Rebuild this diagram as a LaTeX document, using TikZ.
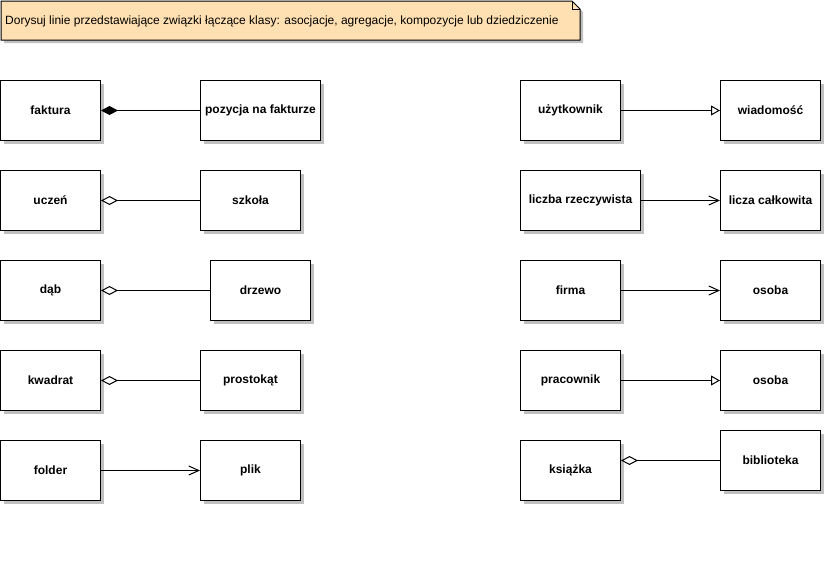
\documentclass[tikz,border=0pt]{standalone}
\usepackage{fontspec}
\setmainfont{Liberation Sans}
\usetikzlibrary{arrows.meta,shadows}
\definecolor{notefill}{RGB}{255,224,178}
\definecolor{shadowgray}{RGB}{192,192,192}
\tikzset{
  cls/.style={draw=black, line width=1pt, fill=white, anchor=north west,
    minimum width=#1, minimum height=60pt, inner sep=0pt,
    font=\fontsize{12pt}{14pt}\selectfont\bfseries,
    general shadow={fill=shadowgray, shadow xshift=3pt, shadow yshift=-3pt}},
  cls/.default=100pt,
  link/.style={line width=1pt},
  compo/.style={link, {Diamond[length=17pt,width=9pt,fill=black]}-},
  aggr/.style={link, {Diamond[open,length=17pt,width=9pt,fill=white]}-},
  assoc/.style={link, -{Straight Barb[length=10pt,width=9pt,line width=1pt]}},
  gener/.style={link, -{Triangle[open,length=9pt,width=10pt,fill=white]}},
}
\begin{document}
\begin{tikzpicture}[x=1pt,y=-1pt]
\useasboundingbox (0,0) rectangle (825,587);
% note
\fill[shadowgray] (4,4) -- (575,4) -- (583,12) -- (583,43) -- (4,43) -- cycle;
\draw[line width=1pt, fill=notefill] (1,1) -- (572,1) -- (580,9) -- (580,40) -- (1,40) -- cycle;
\draw[line width=0.6pt] (572,1) -- (572,9) -- (580,9);
\node[anchor=base west, inner sep=0pt, font=\fontsize{12pt}{14pt}\selectfont] (note) at (5,24)
  {Dorysuj linie przedstawiające związki łączące klasy: asocjacje, agregacje, kompozycje lub dziedziczenie};
% left column
\node[cls] (faktura) at (0,80) {faktura};
\node[cls=120pt] (pozycja) at (200,80) {pozycja na fakturze};
\node[cls] (uczen) at (0,170) {uczeń};
\node[cls] (szkola) at (200,170) {szkoła};
\node[cls] (dab) at (0,260) {dąb};
\node[cls] (drzewo) at (210,260) {drzewo};
\node[cls] (kwadrat) at (0,350) {kwadrat};
\node[cls] (prostokat) at (200,350) {prostokąt};
\node[cls] (folder) at (0,440) {folder};
\node[cls] (plik) at (200,440) {plik};
% right column
\node[cls] (uzytkownik) at (520,80) {użytkownik};
\node[cls] (wiadomosc) at (720,80) {wiadomość};
\node[cls=120pt] (rzecz) at (520,170) {liczba rzeczywista};
\node[cls] (calk) at (720,170) {licza całkowita};
\node[cls] (firma) at (520,260) {firma};
\node[cls] (osoba1) at (720,260) {osoba};
\node[cls] (pracownik) at (520,350) {pracownik};
\node[cls] (osoba2) at (720,350) {osoba};
\node[cls] (ksiazka) at (520,440) {książka};
\node[cls] (biblioteka) at (720,430) {biblioteka};
% connectors
\draw[compo] (faktura.east) -- (pozycja.west);
\draw[aggr] (uczen.east) -- (szkola.west);
\draw[aggr] (dab.east) -- (drzewo.west);
\draw[aggr] (kwadrat.east) -- (prostokat.west);
\draw[assoc] (folder.east) -- (plik.west);
\draw[gener] (uzytkownik.east) -- (wiadomosc.west);
\draw[assoc] (rzecz.east) -- (calk.west);
\draw[assoc] (firma.east) -- (osoba1.west);
\draw[gener] (pracownik.east) -- (osoba2.west);
\draw[aggr] (ksiazka.east |- biblioteka.west) -- (biblioteka.west);
\end{tikzpicture}
\end{document}
